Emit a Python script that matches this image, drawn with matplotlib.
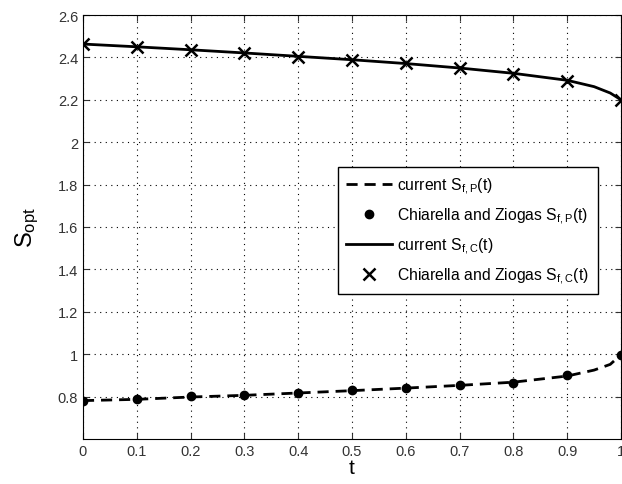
import matplotlib
matplotlib.use("Agg")
import matplotlib.pyplot as plt

plt.rcParams['font.family'] = ['Liberation Sans', 'DejaVu Sans']
plt.rcParams['mathtext.fontset'] = 'custom'
plt.rcParams['mathtext.rm'] = 'Liberation Sans'
plt.rcParams['mathtext.it'] = 'Liberation Sans'

# marker data
t_pts = [0.0, 0.1, 0.2, 0.3, 0.4, 0.5, 0.6, 0.7, 0.8, 0.9, 1.0]
sp_cz = [0.781, 0.787, 0.801, 0.807, 0.818, 0.829, 0.841, 0.855, 0.866, 0.900, 0.998]
sc_cz = [2.463, 2.448, 2.435, 2.422, 2.404, 2.390, 2.373, 2.350, 2.323, 2.288, 2.200]

# line data (current method)
t_line = [0.0, 0.1, 0.2, 0.3, 0.4, 0.5, 0.6, 0.7, 0.8, 0.9, 0.95, 0.98, 1.0]
sp_cur = [0.781, 0.787, 0.798, 0.806, 0.817, 0.828, 0.840, 0.853, 0.868, 0.897, 0.925, 0.952, 0.998]
sc_cur = [2.463, 2.450, 2.436, 2.421, 2.405, 2.389, 2.371, 2.350, 2.325, 2.292, 2.262, 2.232, 2.200]

xticks = [0, 0.1, 0.2, 0.3, 0.4, 0.5, 0.6, 0.7, 0.8, 0.9, 1]
xticklabels = ['0', '0.1', '0.2', '0.3', '0.4', '0.5', '0.6', '0.7', '0.8', '0.9', '1']
yticks = [0.8, 1.0, 1.2, 1.4, 1.6, 1.8, 2.0, 2.2, 2.4, 2.6]
yticklabels = ['0.8', '1', '1.2', '1.4', '1.6', '1.8', '2', '2.2', '2.4', '2.6']

fig = plt.figure(figsize=(6.22, 4.85), dpi=100)
ax = fig.add_axes([0.1334, 0.0928, 0.865, 0.8742])

ax.plot(t_line, sp_cur, 'k--', lw=2, dashes=(4, 2.5), label=r'current $\mathregular{S_{f,P}}$(t)')
ax.plot(t_pts, sp_cz, 'ko', ms=6, ls='none', label=r'Chiarella and Ziogas $\mathregular{S_{f,P}}$(t)')
ax.plot(t_line, sc_cur, 'k-', lw=2, label=r'current $\mathregular{S_{f,C}}$(t)')
ax.plot(t_pts, sc_cz, 'kx', ms=8, mew=1.8, ls='none', label=r'Chiarella and Ziogas $\mathregular{S_{f,C}}$(t)')

ax.set_xlim(0, 1)
ax.set_ylim(0.6, 2.6)
ax.set_xticks(xticks)
ax.set_xticklabels(xticklabels)
ax.set_yticks(yticks)
ax.set_yticklabels(yticklabels)
ax.tick_params(direction='in', labelsize=10.5, length=4, top=True, right=True, colors='#333333', labelcolor='#333333')
for s in ax.spines.values():
    s.set_color('black')
ax.grid(True, color='black', linestyle=(0, (1, 4)), linewidth=0.8)

ax.set_xlabel('t', fontsize=15, labelpad=0)
ax.set_ylabel(r'$\mathregular{S_{opt}}$', fontsize=17, labelpad=12)

leg = ax.legend(loc='upper right', bbox_to_anchor=(0.957, 0.642), fontsize=11.3,
                frameon=True, fancybox=False, edgecolor='black', framealpha=1,
                handlelength=2.9, handletextpad=0.35, borderpad=0.55, labelspacing=0.62,
                borderaxespad=0)
leg.get_frame().set_linewidth(1.0)

fig.savefig('out.png', dpi=100)
